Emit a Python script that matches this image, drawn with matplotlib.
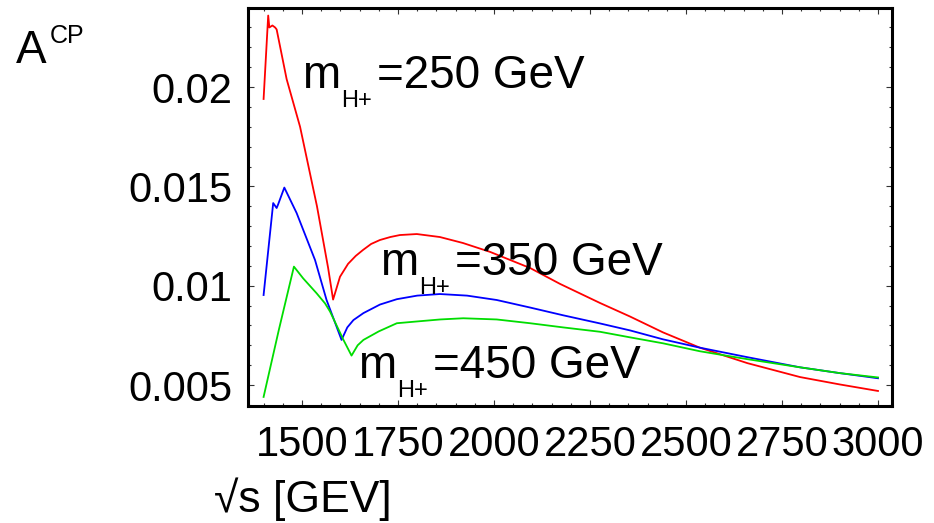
import matplotlib

matplotlib.use("Agg")
import matplotlib.pyplot as plt
from matplotlib.ticker import MultipleLocator

plt.rcParams["font.family"] = ["Liberation Sans", "DejaVu Sans"]

# sqrt(s) in GeV and A_CP
x_250 = [1400, 1412, 1415, 1423, 1430, 1434, 1460, 1495, 1539, 1568, 1581, 1599, 1620, 1640, 1659,
         1680, 1703, 1730, 1755, 1799, 1859, 1919, 1990, 2094, 2172, 2276, 2354, 2440, 2536, 2660,
         2797, 2900, 3000]
a_250 = [0.0194, 0.0236, 0.0230, 0.0231, 0.0230, 0.0229, 0.0204, 0.0180, 0.0140, 0.0109, 0.0093,
         0.01045, 0.0111, 0.0115, 0.0118, 0.0121, 0.0123, 0.01245, 0.01255, 0.0126, 0.01245, 0.01215,
         0.0117, 0.01089, 0.01009, 0.00913, 0.00845, 0.00765, 0.00688, 0.0061, 0.0054, 0.00503, 0.0047]

x_350 = [1400, 1425, 1434, 1438, 1454, 1486, 1534, 1564, 1603, 1618, 1634, 1660, 1703, 1747, 1800,
         1859, 1930, 2007, 2094, 2180, 2276, 2354, 2440, 2536, 2660, 2797, 2900, 3000]
a_350 = [0.00953, 0.01416, 0.01391, 0.0141, 0.01494, 0.01366, 0.01129, 0.00928, 0.00727, 0.0079,
         0.00827, 0.00862, 0.00905, 0.00932, 0.0095, 0.00958, 0.0095, 0.00928, 0.0089, 0.00851,
         0.0081, 0.00775, 0.0073, 0.00688, 0.0064, 0.00589, 0.0056, 0.00534]

x_450 = [1400, 1440, 1479, 1503, 1538, 1560, 1573, 1608, 1629, 1645, 1660, 1700, 1747, 1800, 1860,
         1920, 2007, 2094, 2180, 2276, 2354, 2440, 2536, 2660, 2797, 2900, 3000]
a_450 = [0.0044, 0.0078, 0.01096, 0.01037, 0.00962, 0.00911, 0.0087, 0.00727, 0.00648, 0.0070,
         0.00727, 0.0077, 0.00811, 0.0082, 0.0083, 0.00836, 0.0083, 0.00811, 0.0079, 0.00768, 0.0074,
         0.0071, 0.0067, 0.0063, 0.00589, 0.0056, 0.00538]

xticks = [1500, 1750, 2000, 2250, 2500, 2750, 3000]
yticks = [0.005, 0.01, 0.015, 0.02]
ytick_labels = ["0.005", "0.01", "0.015", "0.02"]

W, H = 934, 523
fig = plt.figure(figsize=(W / 100, H / 100), dpi=100)
ax = fig.add_axes([248 / W, 1 - 406 / H, (892 - 248) / W, (406 - 8) / H])

ax.plot(x_250, a_250, color="#ff0000", lw=1.3)
ax.plot(x_350, a_350, color="#0000ff", lw=1.3)
ax.plot(x_450, a_450, color="#00dd00", lw=1.3)

ax.set_xlim(1359.4, 3036.5)
ax.set_ylim(0.003943, 0.02398)
ax.set_xticks(xticks)
ax.set_xticklabels([str(t) for t in xticks])
ax.set_yticks(yticks)
ax.set_yticklabels(ytick_labels)
ax.xaxis.set_minor_locator(MultipleLocator(50))
ax.yaxis.set_minor_locator(MultipleLocator(0.001))
ax.tick_params(which="both", direction="in", top=True, right=True, color="#333333", width=0.8)
ax.tick_params(which="major", length=4)
ax.tick_params(which="minor", length=2.5)
ax.tick_params(axis="x", which="major", labelsize=30, pad=14)
ax.tick_params(axis="y", which="major", labelsize=30, pad=11)
for sp in ax.spines.values():
    sp.set_linewidth(2.2)


def ftext(px, py, s, size):
    fig.text(px / W, 1 - py / H, s, fontsize=size, ha="left", va="baseline")


# curve labels: m, subscript H+, rest
for (mx, my), mass in [((302, 88), "250"), ((380, 275), "350"), ((358, 378), "450")]:
    ftext(mx, my, "m", 33)
    ftext(mx + 39, my + 19, "H+", 17)
    ftext(mx + 75, my, f"={mass} GeV", 33)

ftext(16, 63, "A", 33)
ftext(50, 43, "CP", 18)
ftext(214, 512, "\u221as [GEV]", 32)

fig.savefig("out.png", dpi=100)
